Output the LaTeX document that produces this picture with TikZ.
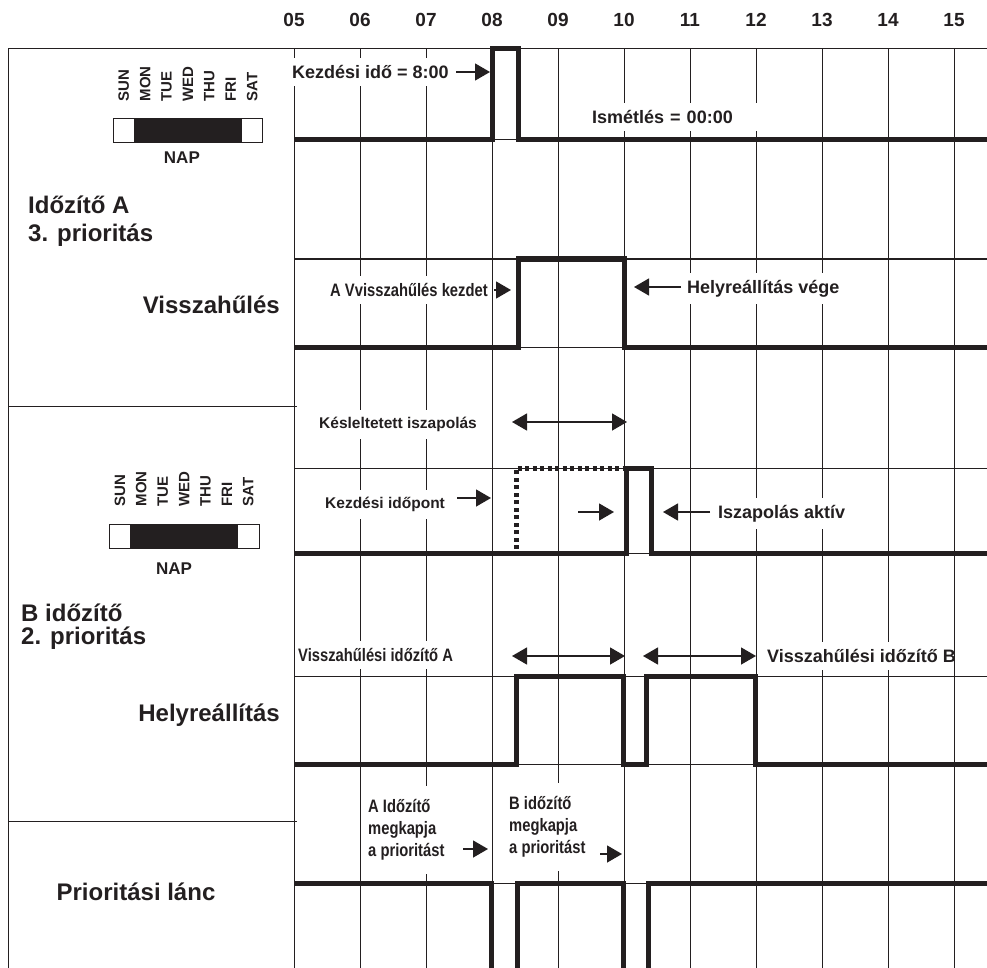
\documentclass[tikz,border=0pt]{standalone}
\usepackage{fontspec}
\setmainfont{Liberation Sans}
\newfontfamily\narrowfont[FakeStretch=0.82]{Liberation Sans}
\usetikzlibrary{positioning,arrows.meta}
\definecolor{ink}{RGB}{35,31,32}

\tikzset{
  gridln/.style={ink, line width=1pt},
  signal/.style={ink, line width=5pt, line join=miter},
  ghost/.style={ink, line width=5pt, dash pattern=on 4pt off 3.5pt},
  hour/.style={font=\fontsize{19}{19}\selectfont\bfseries, text=ink, anchor=base, inner sep=0pt},
  rowtitle/.style={font=\fontsize{24}{28}\selectfont\bfseries, text=ink, align=left, inner sep=0pt},
  note/.style={font=\fontsize{18}{21}\selectfont\bfseries, text=ink, fill=white, inner xsep=4pt, inner ysep=7pt, anchor=base west},
  smallnote/.style={note, font=\fontsize{15.5}{18}\selectfont\bfseries},
  narrownote/.style={note, font=\narrowfont\fontsize{18}{22}\selectfont\bfseries, align=left},
  daylbl/.style={font=\fontsize{15}{15}\selectfont\bfseries, text=ink, rotate=90, anchor=west, inner sep=0pt},
  napl/.style={font=\fontsize{17}{17}\selectfont\bfseries, text=ink, inner sep=0pt},
  cell/.style={draw=ink, line width=0.9pt, minimum width=21.4pt, minimum height=24pt, inner sep=0pt},
  arr/.style={ink, line width=1.4pt, -{Triangle[length=15pt,width=17pt]}},
  darr/.style={ink, line width=1.4pt, {Triangle[length=15pt,width=17pt]}-{Triangle[length=15pt,width=17pt]}},
}

\begin{document}
\begin{tikzpicture}[x=1pt, y=-1pt]
\useasboundingbox (0,0) rectangle (987,968);

\foreach \h in {0,...,9}
  \draw[gridln] (294+66*\h,49) -- (294+66*\h,968);
\foreach \y in {140,259,347,468,553,676,764,883}
  \draw[gridln] (294,\y) -- (987,\y);
\draw[gridln] (8,968) -- (8,49) -- (987,49);
\draw[gridln] (8,406) -- (297,406);
\draw[gridln] (8,821) -- (297,821);

\foreach \t [count=\h from 0] in {05,06,07,08,09,10,11,12,13,14,15}
  \node[hour] (hr\t) at (294+66*\h,26.8) {\t};

\foreach \d/\c [count=\i] in {SUN/white,MON/ink,TUE/ink,WED/ink,THU/ink,FRI/ink,SAT/white}{
  \node[cell, fill=\c] (dayA\i) at (102.3+21.4*\i,130) {};
  \node[daylbl] (lblA\i) at ([yshift=16pt]dayA\i.north) {\d};
  \node[cell, fill=\c] (dayB\i) at (98.5+21.4*\i,536) {};
  \node[daylbl] (lblB\i) at ([yshift=17pt]dayB\i.north) {\d};
}
\node[napl, below=9pt of dayA4, xshift=-6pt] (napA) {NAP};
\node[napl, below=14pt of dayB4, xshift=-10pt] (napB) {NAP};

\node[rowtitle, anchor=west] (timerA) at (28,221) {Időzítő A\\3. prioritás};
\node[rowtitle, anchor=base east] (coolA) at (280,313.6) {Visszahűlés};
\node[rowtitle, anchor=west, font=\fontsize{24}{23}\selectfont\bfseries] (timerB) at (21,626.5) {B időzítő\\2. prioritás};
\node[rowtitle, anchor=base east] (restB) at (280,721.6) {Helyreállítás};
\node[rowtitle, anchor=base] (chain) at (136,900.6) {Prioritási lánc};

\node[note] (startA) at (288,78.4) {Kezdési idő = 8:00};
\node[note, text width=162pt, align=left] (repeatA) at (588,123.4) {Ismétlés = 00:00};
\node[narrownote] (coolStart) at (326,296.4) {A Vvisszahűlés kezdet};
\node[note] (restEnd) at (683,293.4) {Helyreállítás vége};
\node[smallnote] (delayB) at (315,428.7) {Késleltetett iszapolás};
\node[smallnote] (startB) at (321,508.7) {Kezdési időpont};
\node[note] (flushOn) at (714,518.4) {Iszapolás aktív};
\node[narrownote, inner xsep=2pt] (coolTA) at (296,661.4) {Visszahűlési időzítő A};
\node[note] (coolTB) at (763,662.4) {Visszahűlési időzítő B};
\node[narrownote, anchor=west, inner ysep=14pt] (prioA) at (364,830) {A Időzítő\\megkapja\\a prioritást};
\node[narrownote, anchor=west, inner ysep=14pt] (prioB) at (505,827) {B időzítő\\megkapja\\a prioritást};

\draw[gridln] (954,49) -- (954,968);

\coordinate (startTail) at (456,72);   \coordinate (startTip) at (490,72);
\coordinate (coolTail) at (494,290);   \coordinate (coolTip) at (511,290);
\coordinate (endTail) at (681,287);    \coordinate (endTip) at (634,287);
\coordinate (delayL) at (512,422);     \coordinate (delayR) at (627,422);
\coordinate (startBTail) at (457,498); \coordinate (startBTip) at (491,498);
\coordinate (waitTail) at (578,512);   \coordinate (waitTip) at (614,512);
\coordinate (flushTail) at (710,512);  \coordinate (flushTip) at (663,512);
\coordinate (coolAL) at (512,656);     \coordinate (coolAR) at (625,656);
\coordinate (coolBL) at (643,656);     \coordinate (coolBR) at (756,656);
\coordinate (prioATail) at (463,849);  \coordinate (prioATip) at (488,849);
\coordinate (prioBTail) at (600,854);  \coordinate (prioBTip) at (622,854);

\draw[arr] (startTail) -- (startTip);
\draw[arr] (coolTail) -- (coolTip);
\draw[arr] (endTail) -- (endTip);
\draw[darr] (delayL) -- (delayR);
\draw[arr] (startBTail) -- (startBTip);
\draw[arr] (waitTail) -- (waitTip);
\draw[arr] (flushTail) -- (flushTip);
\draw[darr] (coolAL) -- (coolAR);
\draw[darr] (coolBL) -- (coolBR);
\draw[arr] (prioATail) -- (prioATip);
\draw[arr] (prioBTail) -- (prioBTip);

\draw[signal] (294,140) -- (492,140) -- (492,49) -- (518,49) -- (518,140) -- (987,140);
\draw[signal] (294,347) -- (518,347) -- (518,259) -- (624,259) -- (624,347) -- (987,347);
\draw[signal] (294,553) -- (626,553) -- (626,468) -- (651,468) -- (651,553) -- (987,553);
\draw[ghost] (516,549) -- (516,468) -- (624,468);
\draw[signal] (294,764) -- (516,764) -- (516,676) -- (623,676) -- (623,764) -- (646,764)
  -- (646,676) -- (755,676) -- (755,764) -- (987,764);
\draw[signal] (294,883) -- (491,883) -- (491,968);
\draw[signal] (517,968) -- (517,883) -- (623,883) -- (623,968);
\draw[signal] (648,968) -- (648,883) -- (987,883);
\end{tikzpicture}
\end{document}
